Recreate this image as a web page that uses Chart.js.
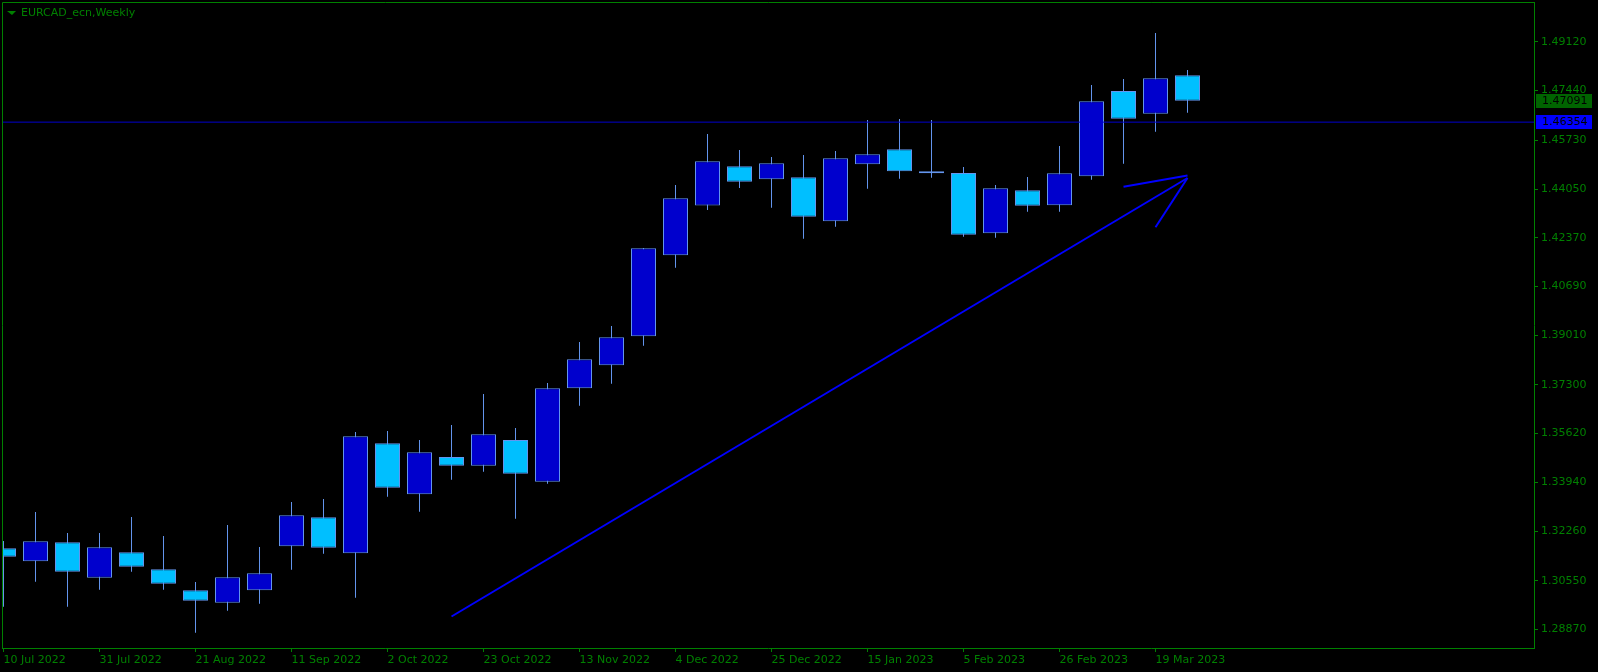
<!DOCTYPE html>
<html>
<head>
<meta charset="utf-8">
<title>EURCAD_ecn,Weekly</title>
<script src="https://cdn.jsdelivr.net/npm/chart.js@4.4.1/dist/chart.umd.min.js"></script>
<style>
  html, body { margin: 0; padding: 0; background: #000; }
  #wrap { position: relative; width: 1598px; height: 672px; }
  #myChart { display: block; }
  #title { position: absolute; left: 21px; top: 6px; font-family: "DejaVu Sans"; font-size: 11px; line-height: 13px; color: #008000; }
  #tri { position: absolute; left: 7px; top: 11px; width: 0; height: 0;
         border-left: 5px solid transparent; border-right: 4px solid transparent; border-top: 4px solid #008000; }
</style>
</head>
<body>
<div id="wrap">
  <canvas id="myChart" width="1598" height="672"></canvas>
  <div id="tri"></div>
  <div id="title">EURCAD_ecn,Weekly</div>
</div>
<script>
// weekly bars
const weeks = ["10 Jul 2022", "17 Jul 2022", "24 Jul 2022", "31 Jul 2022", "7 Aug 2022", "14 Aug 2022",
  "21 Aug 2022", "28 Aug 2022", "4 Sep 2022", "11 Sep 2022", "18 Sep 2022", "25 Sep 2022",
  "2 Oct 2022", "9 Oct 2022", "16 Oct 2022", "23 Oct 2022", "30 Oct 2022", "6 Nov 2022",
  "13 Nov 2022", "20 Nov 2022", "27 Nov 2022", "4 Dec 2022", "11 Dec 2022", "18 Dec 2022",
  "25 Dec 2022", "1 Jan 2023", "8 Jan 2023", "15 Jan 2023", "22 Jan 2023", "29 Jan 2023",
  "5 Feb 2023", "12 Feb 2023", "19 Feb 2023", "26 Feb 2023", "5 Mar 2023", "12 Mar 2023",
  "19 Mar 2023", "26 Mar 2023"];

const open = [1.31668, 1.31220, 1.31875, 1.30655, 1.31530, 1.30944, 1.30221, 1.29794, 1.30221, 1.31737,
  1.32736, 1.31496, 1.35287, 1.33529, 1.34814, 1.34515, 1.35400, 1.33963, 1.37182, 1.37974,
  1.38974, 1.41765, 1.43481, 1.44832, 1.44384, 1.44453, 1.42937, 1.44901, 1.45418, 1.44591,
  1.44601, 1.42523, 1.44005, 1.43488, 1.44487, 1.47427, 1.46645, 1.47968];
const high = [1.31920, 1.32919, 1.32195, 1.32195, 1.32747, 1.32092, 1.30507, 1.32471, 1.31713, 1.33264,
  1.33367, 1.35676, 1.35710, 1.35400, 1.35917, 1.36985, 1.35814, 1.37364, 1.38777, 1.39329,
  1.42016, 1.44188, 1.45945, 1.45394, 1.45152, 1.45221, 1.45359, 1.46427, 1.46462, 1.46427,
  1.44808, 1.44188, 1.44463, 1.45531, 1.47633, 1.47840, 1.49425, 1.48150];
const low = [1.29656, 1.30517, 1.29656, 1.30242, 1.30862, 1.30242, 1.28760, 1.29518, 1.29759, 1.30931,
  1.31482, 1.29966, 1.33446, 1.32929, 1.34032, 1.34308, 1.32688, 1.33894, 1.36582, 1.37340,
  1.38650, 1.41338, 1.43326, 1.44084, 1.43405, 1.42337, 1.42750, 1.44060, 1.44405, 1.44439,
  1.42406, 1.42371, 1.43267, 1.43267, 1.44370, 1.44922, 1.46024, 1.46679];
const close = [1.31379, 1.31909, 1.30862, 1.31703, 1.31034, 1.30448, 1.29862, 1.30669, 1.30807, 1.32805,
  1.31689, 1.35528, 1.33756, 1.34976, 1.34515, 1.35597, 1.34239, 1.37182, 1.38181, 1.38939,
  1.42006, 1.43729, 1.45004, 1.44301, 1.44935, 1.43095, 1.45108, 1.45245, 1.44660, 1.44660,
  1.42475, 1.44074, 1.43474, 1.44591, 1.47072, 1.46472, 1.47864, 1.47091];

const priceTicks = [1.28870, 1.30550, 1.32260, 1.33940, 1.35620, 1.37300, 1.39010,
  1.40690, 1.42370, 1.44050, 1.45730, 1.47440, 1.49120];
const weekTicks = [0, 3, 6, 9, 12, 15, 18, 21, 24, 27, 30, 33, 36];

// drawn objects: horizontal level, trend line with arrow head
const level = 1.46354;
const trend = [[14, 1.29318], [37, 1.44429]];
const arrowUpper = [[35, 1.44129], [37, 1.44515]];
const arrowLower = [[36, 1.42730], [37, 1.44429]];

// visible window
const xMin = -0.047, xMax = 47.828;
const yMin = 1.28233, yMax = 1.50494;

const green = '#008000';
const edge = '#6495ED';

Chart.defaults.font.family = '"DejaVu Sans"';
Chart.defaults.font.size = 11;

const toPts = arr => arr.map(p => ({ x: p[0], y: p[1] }));

const extras = {
  id: 'extras',
  afterDraw(chart) {
    const ctx = chart.ctx, a = chart.chartArea, ys = chart.scales.y;
    ctx.save();
    ctx.strokeStyle = green;
    ctx.lineWidth = 1;
    ctx.beginPath();
    ctx.moveTo(a.left + 0.5, a.bottom);
    ctx.lineTo(a.left + 0.5, a.top + 0.5);
    ctx.lineTo(a.right, a.top + 0.5);
    ctx.stroke();

    // price tags on the axis
    [[close[close.length - 1], '#006400'], [level, '#0000FF']].forEach(t => {
      const py = Math.round(ys.getPixelForValue(t[0]));
      ctx.fillStyle = t[1];
      ctx.fillRect(a.right + 2, py - 7, 56, 14);
      ctx.fillStyle = '#000';
      ctx.font = '11px "DejaVu Sans"';
      ctx.textBaseline = 'middle';
      ctx.textAlign = 'left';
      ctx.fillText(t[0].toFixed(5), a.right + 8, py);
    });
    ctx.restore();
  }
};

new Chart(document.getElementById('myChart'), {
  type: 'bar',
  data: {
    datasets: [
      {
        type: 'line', data: toPts(trend), borderColor: '#0000FF', borderWidth: 2,
        pointRadius: 0, fill: false, order: 0, clip: 0
      },
      {
        type: 'line', data: toPts(arrowUpper), borderColor: '#0000FF', borderWidth: 2,
        pointRadius: 0, fill: false, order: 0, clip: 0
      },
      {
        type: 'line', data: toPts(arrowLower), borderColor: '#0000FF', borderWidth: 2,
        pointRadius: 0, fill: false, order: 0, clip: 0
      },
      {
        type: 'line', data: [{ x: xMin, y: level }, { x: xMax, y: level }], borderColor: '#0000CD',
        borderWidth: 1, pointRadius: 0, fill: false, order: 0, clip: 0
      },
      {
        label: 'body',
        data: close.map((c, i) => ({ x: i, y: [open[i], c] })),
        backgroundColor: close.map((c, i) => c >= open[i] ? '#0000CD' : '#00BFFF'),
        borderColor: edge, borderWidth: 1, borderSkipped: false,
        barThickness: 25, grouped: false, inflateAmount: 0, order: 1, clip: 0
      },
      {
        label: 'wick',
        data: high.map((h, i) => ({ x: i, y: [low[i], h] })),
        backgroundColor: edge, borderWidth: 0,
        barThickness: 1, grouped: false, inflateAmount: 0, order: 2, clip: 0
      }
    ]
  },
  options: {
    responsive: false,
    animation: false,
    layout: { padding: { left: 2, top: 2, right: 0, bottom: 0 } },
    plugins: { legend: { display: false }, tooltip: { enabled: false } },
    scales: {
      x: {
        type: 'linear', position: 'bottom', min: xMin, max: xMax, offset: false,
        grid: { offset: false, drawOnChartArea: false, drawTicks: true, tickLength: 4, color: green },
        border: { color: green, width: 1 },
        ticks: {
          color: green, align: 'start', maxRotation: 0, autoSkip: false, padding: 2,
          callback: v => weeks[v]
        },
        afterBuildTicks: s => { s.ticks = weekTicks.map(v => ({ value: v })); },
        afterFit: s => { s.height = 24; s.paddingLeft = 0; s.paddingRight = 0; }
      },
      y: {
        type: 'linear', position: 'right', min: yMin, max: yMax,
        grid: { drawOnChartArea: false, drawTicks: true, tickLength: 4, color: green },
        border: { color: green, width: 1 },
        ticks: { color: green, padding: 3, callback: v => v.toFixed(5) },
        afterBuildTicks: s => { s.ticks = priceTicks.map(v => ({ value: v })); },
        afterFit: s => { s.width = 64; s.paddingTop = 0; s.paddingBottom = 0; }
      }
    }
  },
  plugins: [extras]
});
</script>
</body>
</html>
